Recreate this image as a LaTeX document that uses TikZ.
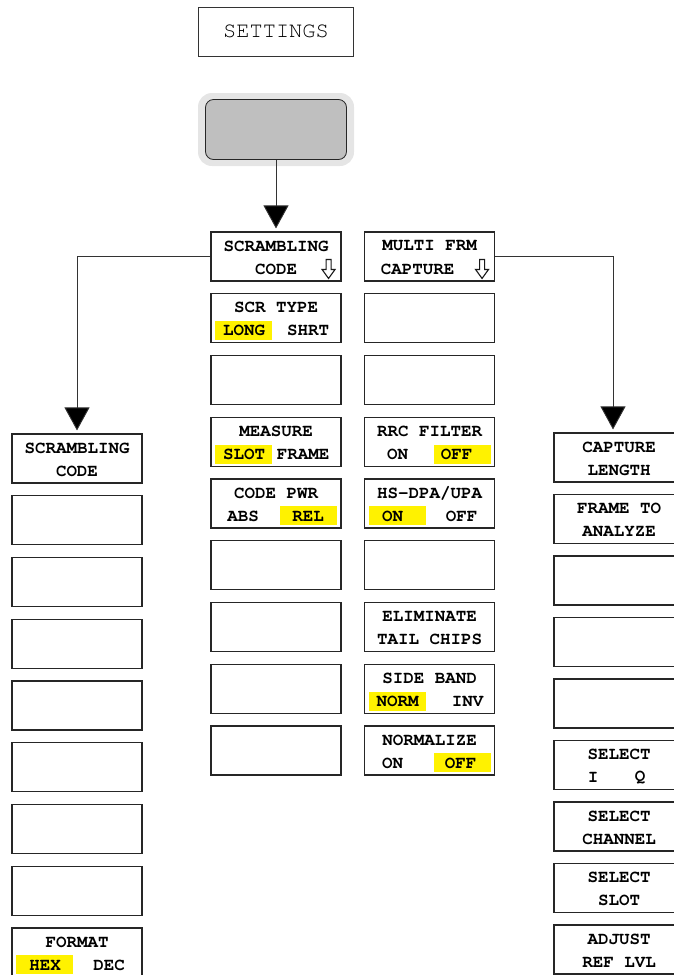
\documentclass[tikz,border=0pt]{standalone}
\usepackage{fontspec}
\setmonofont{texgyrecursor}[Extension=.otf, UprightFont=*-regular, BoldFont=*-bold]
\usetikzlibrary{arrows.meta}
\usetikzlibrary{positioning}

\begin{document}
\begin{tikzpicture}[x=1pt, y=-1pt,
    softkey/.style={draw=black!85, line width=1.1pt, minimum width=130pt, minimum height=49pt, inner sep=0pt},
    keytext/.style={font=\ttfamily\bfseries\fontsize{17.5}{18}\selectfont, text=black, inner sep=0pt},
    hilite/.style={fill=yellow, draw=none, minimum width=57pt, minimum height=19pt, inner sep=0pt},
    bigarrow/.style={draw=black!80, line width=0.9pt, -{Triangle[width=25pt,length=23pt,fill=black]}, shorten >=3pt}]

    \useasboundingbox (0,0) rectangle (674,975);
    \clip (0,0) rectangle (674,975);

    % Settings key
    \node [draw=black!80, line width=0.8pt, minimum width=155pt, minimum height=49pt, inner sep=0pt, text=black,
           font=\ttfamily\fontsize{22}{22}\selectfont] (settings) at (276,31.5) {SETTINGS};

    % Hotkey with its halo
    \node [fill=black!10, rounded corners=14pt, minimum width=156pt, minimum height=73pt] (hotkey_halo) at (276,129.5) {};
    \node [draw=black!85, fill=black!25, line width=0.8pt, rounded corners=8pt, minimum width=141pt, minimum height=60pt] (hotkey) at (hotkey_halo) {};

    % Softkey columns
    \foreach \i in {1,...,9} {
        \pgfmathsetmacro{\yl}{434+61.75*(\i-1)+24.5}
        \pgfmathsetmacro{\ym}{232+61.75*(\i-1)+24.5}
        \pgfmathsetmacro{\yr}{433+61.5*(\i-1)+24.5}
        \node [softkey] (left\i) at (77,\yl) {};
        \node [softkey] (mid\i) at (276,\ym) {};
        \node [softkey] (side\i) at (429.5,\ym) {};
        \node [softkey] (right\i) at (619,\yr) {};
    }

    % Yellow marks for the active state
    \foreach \key/\dx in {mid2/-32.5, mid4/-32.5, mid5/32.5, side4/32.5, side5/-32.5, side8/-32.5, side9/32.5, left9/-32.5} {
        \node [hilite] at ([xshift=\dx pt, yshift=-37.5pt]\key.north) {};
    }

    % Upper text lines
    \foreach \key/\txt in {left1/SCRAMBLING, left9/FORMAT, mid1/SCRAMBLING, mid2/SCR TYPE, mid4/MEASURE, mid5/CODE PWR,
                           side1/MULTI FRM, side4/RRC FILTER, side5/{HS-DPA/UPA}, side7/ELIMINATE, side8/SIDE BAND, side9/NORMALIZE,
                           right1/CAPTURE, right2/FRAME TO, right6/SELECT, right7/SELECT, right8/SELECT, right9/ADJUST} {
        \node [keytext] at ([yshift=-14.5pt]\key.north) {\txt};
    }

    % Lower text lines
    \foreach \key/\dx/\txt in {left1/0/CODE, mid1/0/CODE, side1/-12/CAPTURE, side7/0/TAIL CHIPS,
                               right1/0/LENGTH, right2/0/ANALYZE, right7/0/CHANNEL, right8/0/SLOT, right9/0/REF LVL,
                               mid2/-32/LONG, mid2/32/SHRT, mid4/-32/SLOT, mid4/27/FRAME, mid5/-33/ABS, mid5/32/REL,
                               side4/-32/ON, side4/27/OFF, side5/-37/ON, side5/32/OFF, side8/-32/NORM, side8/38/INV,
                               side9/-37/ON, side9/31/OFF, left9/-32/HEX, left9/32/DEC, right6/-26/I, right6/21/Q} {
        \node [keytext] at ([xshift=\dx pt, yshift=-37.5pt]\key.north) {\txt};
    }

    % Hollow arrows for submenus
    \foreach \key in {mid1, side1} {
        \draw [black!90, line width=1.1pt, line join=miter]
            ([xshift=-15.5pt, yshift=-28pt]\key.north east) -- ++(5,0) -- ++(0,10) -- ++(4,0)
            -- ++(-6.5,9) -- ++(-6.5,-9) -- ++(4,0) -- cycle;
    }

    % Connectors
    \draw [bigarrow] (hotkey.south) -- (mid1.north);
    \draw [bigarrow] (mid1.west) -| (left1.north);
    \draw [bigarrow] (side1.east) -| ([xshift=-6pt]right1.north);
\end{tikzpicture}
\end{document}
